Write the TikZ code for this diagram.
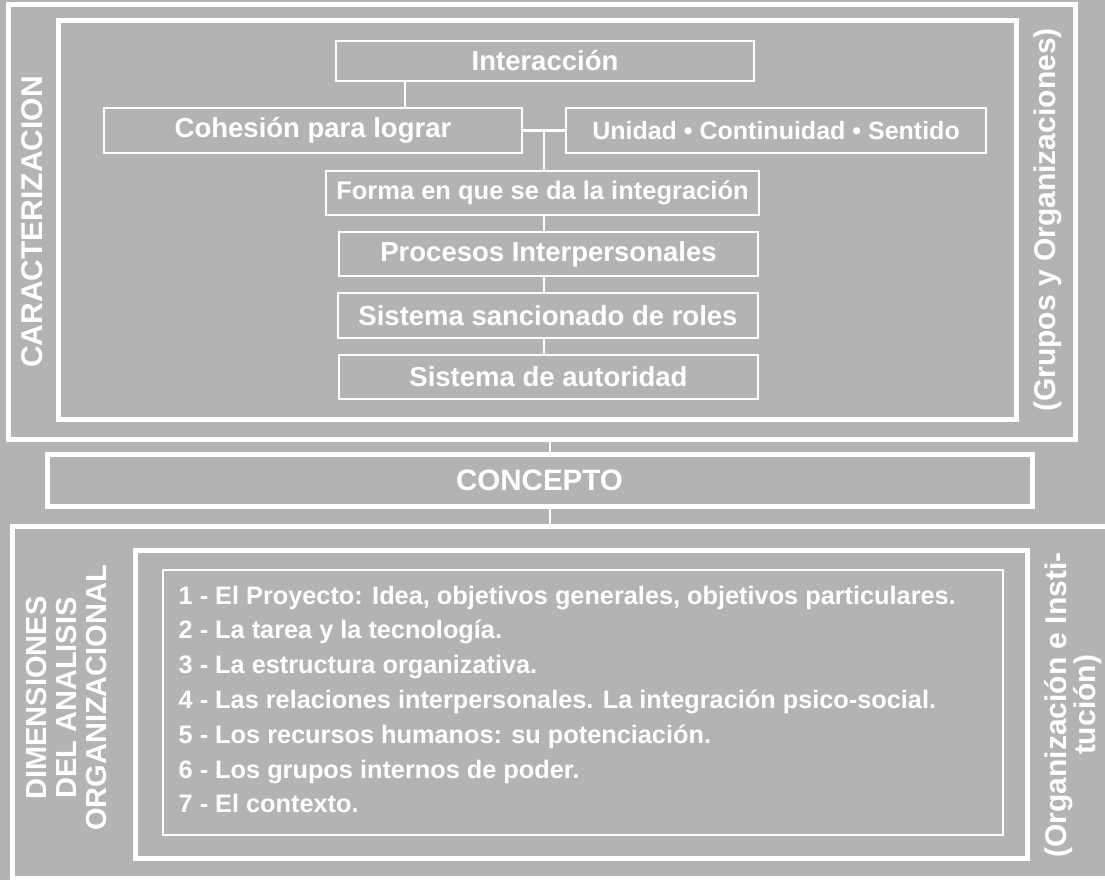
\documentclass[tikz,border=0pt]{standalone}
\usepackage{fontspec}
\setmainfont{Liberation Sans}
\definecolor{fondo}{RGB}{179,179,179}

\begin{document}
\begin{tikzpicture}[x=1pt,y=-1pt,
    caja/.style={draw=white,line width=2.5pt,text=white,inner sep=0pt,
                 font=\bfseries\fontsize{27.5}{30}\selectfont},
    marco/.style={draw=white,line width=5pt,inner sep=0pt},
    lateral/.style={text=white,rotate=90,align=center,
                 font=\bfseries\fontsize{30}{29}\selectfont},
    enlace/.style={draw=white,line width=2.5pt},
    item/.style={text=white,anchor=base west,inner sep=0pt,
                 font=\bfseries\fontsize{25.3}{30}\selectfont}]

        % fondo
        \fill[fondo] (0,0) rectangle (1105,880);
        \useasboundingbox (0,0) rectangle (1105,880);

        % caracterizacion
        \node[marco,minimum width=1067pt,minimum height=434pt] (caract)   at (541.5,222) {};
        \node[marco,minimum width=958pt,minimum height=398pt]  (caractin) at (537,220)   {};
        \node[lateral] (lbcar) at (32,222)   {CARACTERIZACION};
        \node[lateral] (lbgru) at (1048,220) {(Grupos y Organizaciones)};

        \node[caja,minimum width=418pt,minimum height=40pt] (inter) at (545,61)    {Interacción};
        \node[caja,minimum width=418pt,minimum height=45pt] (cohes) at (313,130.5) {Cohesión para lograr};
        \node[caja,minimum width=420pt,minimum height=45pt,font=\bfseries\fontsize{25}{30}\selectfont]
                                                             (unid)  at (776,130.5) {Unidad • Continuidad • Sentido};
        \node[caja,minimum width=433pt,minimum height=44pt,font=\bfseries\fontsize{25.5}{30}\selectfont]
                                                             (forma) at (542.5,193) {Forma en que se da la integración};
        \node[caja,minimum width=419pt,minimum height=44pt] (proc)  at (548.5,254) {Procesos Interpersonales};
        \node[caja,minimum width=420pt,minimum height=45pt] (sanc)  at (548,315.5) {Sistema sancionado de roles};
        \node[caja,minimum width=419pt,minimum height=44pt] (autor) at (548.5,377) {Sistema de autoridad};

        \coordinate (c1)  at (405,0);
        \coordinate (eje) at (544,0);
        \draw[enlace] (inter.south -| c1) -- (cohes.north -| c1);
        \draw[enlace] (cohes.east) -- (unid.west);
        \draw[enlace] (cohes.east -| eje) -- (forma.north -| eje);
        \foreach \a/\b in {forma/proc, proc/sanc, sanc/autor}
            \draw[enlace] (\a.south -| eje) -- (\b.north -| eje);

        % concepto
        \node[marco,text=white,font=\bfseries\fontsize{29.5}{30}\selectfont,
              minimum width=985pt,minimum height=52pt] (concepto) at (539.5,480) {CONCEPTO};

        \coordinate (eje2) at (550,0);
        \draw[enlace] (caract.south -| eje2) -- (concepto.north -| eje2);

        % dimensiones
        \node[marco,minimum width=1103pt,minimum height=352pt] (dimens)   at (563.5,702) {};
        \node[marco,minimum width=892pt,minimum height=308pt]  (dimensin) at (581,704)   {};
        \node[draw=white,line width=2pt,inner sep=0pt,
              minimum width=840pt,minimum height=265pt]        (lista)    at (583,702.5) {};
        \draw[enlace] (concepto.south -| eje2) -- (dimens.north -| eje2);

        \node[lateral,font=\bfseries\fontsize{29}{30}\selectfont] (lbdim) at (67,698)
            {DIMENSIONES\\DEL ANALISIS\\ORGANIZACIONAL};
        \node[lateral,font=\bfseries\fontsize{30}{28}\selectfont] (lborg) at (1073,705)
            {(Organización e Insti-\\tución)};

        \foreach \texto [count=\i] in {
            {1 - El Proyecto: Idea, objetivos generales, objetivos particulares.},
            {2 - La tarea y la tecnología.},
            {3 - La estructura organizativa.},
            {4 - Las relaciones interpersonales. La integración psico-social.},
            {5 - Los recursos humanos: su potenciación.},
            {6 - Los grupos internos de poder.},
            {7 - El contexto.}}
            \node[item] (item\i) at (178.5,{604+34.8*(\i-1)}) {\texto};
\end{tikzpicture}
\end{document}
